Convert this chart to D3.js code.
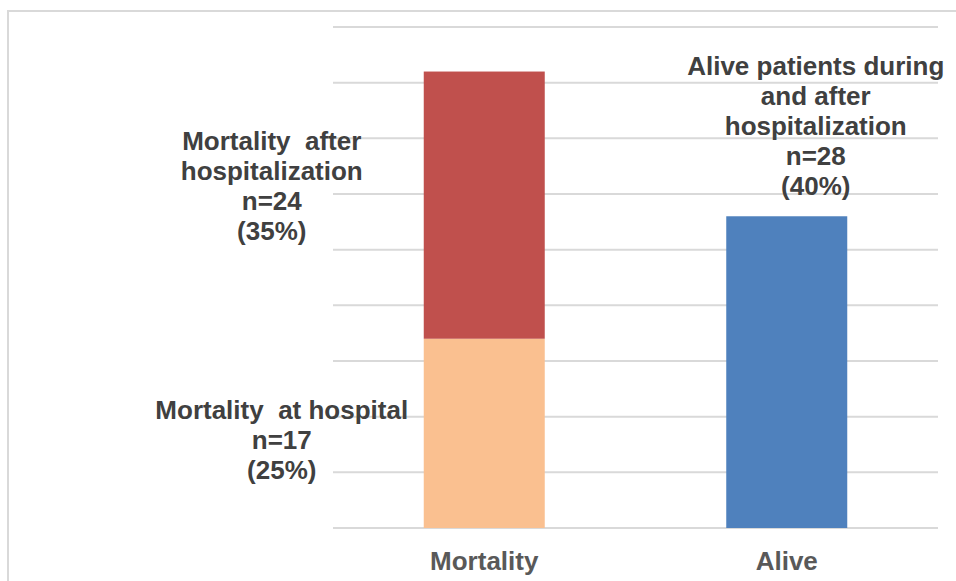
<!DOCTYPE html>
<html>
<head>
  <meta charset="utf-8">
  <style>
    body { margin: 0; background: #fff; }
    text { font-family: "Liberation Sans", Arial, sans-serif; font-weight: bold; }
  </style>
</head>
<body>
  <svg id="chart"></svg>
  <script src="https://d3js.org/d3.v7.min.js"></script>
  <script>
    // data
    const categories = ["Mortality", "Alive"];
    const atHospital = [17, 0];
    const afterHospital = [24, 0];
    const alive = [0, 28];
    const yTicks = [0, 5, 10, 15, 20, 25, 30, 35, 40, 45];

    const labels = [
      { cat: "Mortality", layer: "atHospital", lines: ["Mortality  at hospital", "n=17", "(25%)"] },
      { cat: "Mortality", layer: "afterHospital", lines: ["Mortality  after", "hospitalization", "n=24", "(35%)"] },
      { cat: "Alive", layer: "alive", lines: ["Alive patients during", "and after", "hospitalization", "n=28", "(40%)"] }
    ];

    const width = 956, height = 581;
    const margin = { top: 27, right: 18, bottom: 53, left: 333 };

    const svg = d3.select("#chart")
      .attr("width", width)
      .attr("height", height);

    // outer chart frame
    svg.append("path")
      .attr("d", `M8,${height + 5}V11H${width + 5}`)
      .attr("fill", "none")
      .attr("stroke", "#d9d9d9")
      .attr("stroke-width", 2);

    const x = d3.scaleBand()
      .domain(categories)
      .range([margin.left, width - margin.right]);

    const y = d3.scaleLinear()
      .domain([0, 45])
      .range([height - margin.bottom, margin.top]);

    // gridlines
    svg.append("g")
      .selectAll("line")
      .data(yTicks)
      .join("line")
      .attr("x1", margin.left)
      .attr("x2", width - margin.right)
      .attr("y1", d => y(d))
      .attr("y2", d => y(d))
      .attr("stroke", "#d9d9d9")
      .attr("stroke-width", 2);

    const rows = categories.map((c, i) => ({
      cat: c,
      atHospital: atHospital[i],
      afterHospital: afterHospital[i],
      alive: alive[i]
    }));
    const keys = ["atHospital", "afterHospital", "alive"];
    const colors = { atHospital: "#fac090", afterHospital: "#c0504d", alive: "#4f81bd" };
    const stacked = d3.stack().keys(keys)(rows);

    const barW = x.bandwidth() * 0.4;
    const barLeft = c => x(c) + (x.bandwidth() - barW) / 2;

    svg.append("g")
      .selectAll("g")
      .data(stacked)
      .join("g")
      .attr("fill", d => colors[d.key])
      .selectAll("rect")
      .data(d => d.filter(s => s[1] > s[0]))
      .join("rect")
      .attr("x", d => barLeft(d.data.cat))
      .attr("width", barW)
      .attr("y", d => y(d[1]))
      .attr("height", d => y(d[0]) - y(d[1]));

    // category axis labels
    svg.append("g")
      .selectAll("text")
      .data(categories)
      .join("text")
      .attr("x", d => x(d) + x.bandwidth() / 2)
      .attr("y", y(0) + 42)
      .attr("text-anchor", "middle")
      .attr("fill", "#595959")
      .attr("font-size", 26)
      .text(d => d);

    // data labels placed beside / above their segments
    const seg = (cat, layer) =>
      stacked.find(k => k.key === layer).find(p => p.data.cat === cat);
    const lineH = 30;
    const labelPos = l => {
      const s = seg(l.cat, l.layer);
      const n = l.lines.length;
      if (l.layer === "alive") {
        return { cx: barLeft(l.cat) + barW / 2 + 29, cy: y(s[1]) - 21 - (n - 1) * lineH };
      }
      const mid = (y(s[0]) + y(s[1])) / 2;
      if (l.layer === "atHospital") {
        return { cx: barLeft(l.cat) - 142, cy: mid + 16 - (n - 1) * lineH / 2 };
      }
      return { cx: barLeft(l.cat) - 152, cy: mid - 10 - (n - 1) * lineH / 2 };
    };

    svg.append("g")
      .selectAll("text")
      .data(labels)
      .join("text")
      .attr("text-anchor", "middle")
      .attr("fill", "#404040")
      .attr("font-size", 26)
      .each(function (l) {
        const p = labelPos(l);
        d3.select(this).selectAll("tspan")
          .data(l.lines)
          .join("tspan")
          .attr("x", p.cx)
          .attr("y", (d, i) => p.cy + i * lineH)
          .attr("xml:space", "preserve")
          .text(d => d);
      });
  </script>
</body>
</html>
